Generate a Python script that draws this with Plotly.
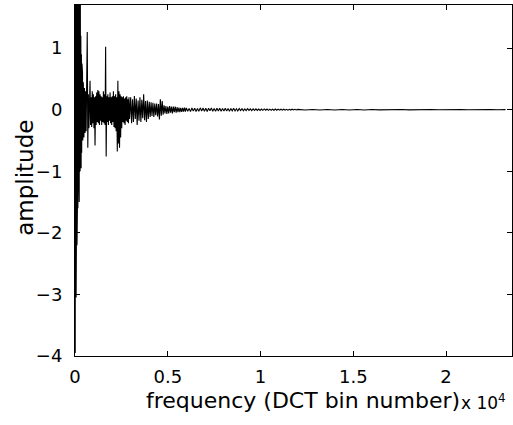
import plotly.graph_objects as go

# ---- data ----
# head: explicit DCT bins and amplitudes
head_bins = [0, 12, 24, 36, 48, 60, 72, 84, 96, 108, 120, 132, 144, 156, 168, 180, 192,
             204, 216, 228, 240, 252, 264, 276, 288, 300, 315, 330, 345, 360, 375, 390,
             405, 420, 435]
head_vals = [0.15, -3.95, 1.9, -1.65, 1.9, -3.05, 1.9, -1.7, 1.9, -2.2, 1.9, -1.55, 1.8,
             -1.6, 1.9, -1.4, 1.85, -1.1, 1.75, -1.5, 1.9, -0.95, 1.55, -1.0, 1.75, -0.9,
             1.2, -0.95, 0.9, -0.7, 0.75, -0.55, 0.6, -0.5, 0.45]

# segment B: bins 450.. step 30
segB_start, segB_step = 450, 30
segB_vals = [0.42, -0.45, 0.35, -0.38, 0.3, -0.35, 0.28, 1.26, -0.62, 0.25, -0.3, 0.22,
             0.47, -0.25, 0.2, -0.28, 0.3, -0.22, 0.25, -0.3, 0.2, -0.58, 0.22, -0.25,
             0.28, -0.2, 0.32, -0.22, 0.3, -0.25, 0.25, -0.18, 0.22, -0.25, 0.2, -0.2,
             0.3, -0.22, 0.25, -0.25, 1.02, -0.76, 0.22, -0.2, 0.25, -0.25, 0.2, -0.18,
             0.28, -0.22, 0.2, -0.25, 0.22, -0.2, 0.3, -0.28, 0.22, -0.3, 0.25, -0.35,
             0.2, -0.68, 0.47, -0.55, 0.3, -0.62, 0.25, -0.45, 0.22, -0.3, 0.2, -0.2,
             0.22, -0.22, 0.18, -0.25, 0.2, -0.18, 0.22, -0.2, 0.17, -0.22, 0.2, -0.15,
             0.18]

# segment C: bins 3000.. step 50
segC_start, segC_step = 3000, 50
segC_vals = [0.2, -0.22, 0.17, -0.2, 0.22, -0.15, 0.18, -0.25, 0.15, -0.18, 0.2, -0.2,
             0.16, -0.14, 0.25, -0.17, 0.14, -0.2, 0.15, -0.15, 0.13,
             -0.12, 0.12, -0.1, 0.11, -0.12, 0.1, -0.09, 0.1, -0.11, 0.09,
             -0.16, 0.17, -0.1, 0.14, -0.08,
             0.07, -0.06, 0.06, -0.07, 0.05, -0.06, 0.06, -0.05, 0.05, -0.06, 0.05, -0.04,
             0.05, -0.05,
             0.04, -0.04, 0.035, -0.04, 0.03, -0.035, 0.03, -0.03, 0.035, -0.03]

# segment D: bins 6000.. step 75
segD_start, segD_step = 6000, 75
segD_vals = [0.03, -0.025, 0.02, -0.032, 0.028, -0.02, 0.025, -0.03, 0.018, -0.027,
             0.03, -0.022, 0.026, -0.025,
             0.022, -0.028, 0.025, -0.018, 0.027, -0.024, 0.02, -0.026, 0.024, -0.02,
             0.022, -0.025, 0.018,
             -0.022, 0.024, -0.02, 0.018, -0.024, 0.02, -0.018, 0.022, -0.02, 0.016,
             -0.02, 0.018, -0.015,
             0.016, -0.018, 0.014, -0.016, 0.015, -0.012, 0.014, -0.015, 0.012, -0.013,
             0.014, -0.012, 0.011,
             -0.012, 0.01, -0.011, 0.012, -0.009, 0.01, -0.011, 0.009, -0.01, 0.008,
             -0.009, 0.01, -0.008, 0.009, -0.008, 0.007, -0.008, 0.008, -0.007, 0.006,
             -0.007, 0.006, -0.006, 0.007, -0.005, 0.006, -0.005]

# segment E: bins 12000.. step 400
segE_start, segE_step = 12000, 400
segE_vals = [0.005, -0.005, 0.004, -0.005, 0.004, -0.004, 0.004, -0.004, 0.003, -0.004,
             0.003, -0.003, 0.003, -0.003, 0.003, -0.003, 0.002, -0.003, 0.002, -0.002,
             0.002, -0.002, 0.002, -0.002, 0.002, -0.002, 0.001, -0.002, 0.001]

x_max = 23552
y_min, y_max = -4, 1.7
xtick_vals = [0, 5000, 10000, 15000, 20000]
xtick_text = ["0", "0.5", "1", "1.5", "2"]
ytick_vals = [-4, -3, -2, -1, 0, 1]

# ---- assemble ----
bins = list(head_bins)
vals = list(head_vals)
for start, step, vs in [(segB_start, segB_step, segB_vals),
                        (segC_start, segC_step, segC_vals),
                        (segD_start, segD_step, segD_vals),
                        (segE_start, segE_step, segE_vals)]:
    bins += [start + step * i for i in range(len(vs))]
    vals += vs

FONT = "DejaVu Sans, sans-serif"

fig = go.Figure()
fig.add_trace(go.Scatter(x=bins, y=vals, mode="lines",
                         line=dict(color="black", width=1.1), showlegend=False,
                         hoverinfo="skip"))

axis_common = dict(showline=True, linecolor="black", linewidth=1, mirror="ticks",
                   ticks="inside", ticklen=5, tickcolor="black", showgrid=False,
                   zeroline=False, tickfont=dict(family=FONT, size=18, color="black"))

fig.update_layout(
    width=513, height=425,
    margin=dict(l=75, r=1, t=5, b=69),
    plot_bgcolor="white", paper_bgcolor="white",
    xaxis=dict(range=[0, x_max], tickmode="array", tickvals=xtick_vals,
               ticktext=xtick_text, ticklabelstandoff=4, **axis_common),
    yaxis=dict(range=[y_min, y_max], tickmode="array", tickvals=ytick_vals,
               ticklabelstandoff=8, **axis_common),
    annotations=[
        dict(text="frequency (DCT bin number)", xref="paper", yref="paper",
             x=0.522, y=-0.128, xanchor="center", yanchor="middle", showarrow=False,
             font=dict(family=FONT, size=22, color="black")),
        dict(text="amplitude", xref="paper", yref="paper", x=-0.115, y=0.507,
             textangle=-90, xanchor="center", yanchor="middle", showarrow=False,
             font=dict(family=FONT, size=23, color="black")),
        dict(text="x 10<sup>4</sup>", xref="paper", yref="paper", x=0.99, y=-0.13,
             xanchor="right", yanchor="middle", showarrow=False,
             font=dict(family=FONT, size=17, color="black")),
    ],
)

fig.write_html("out.html")
